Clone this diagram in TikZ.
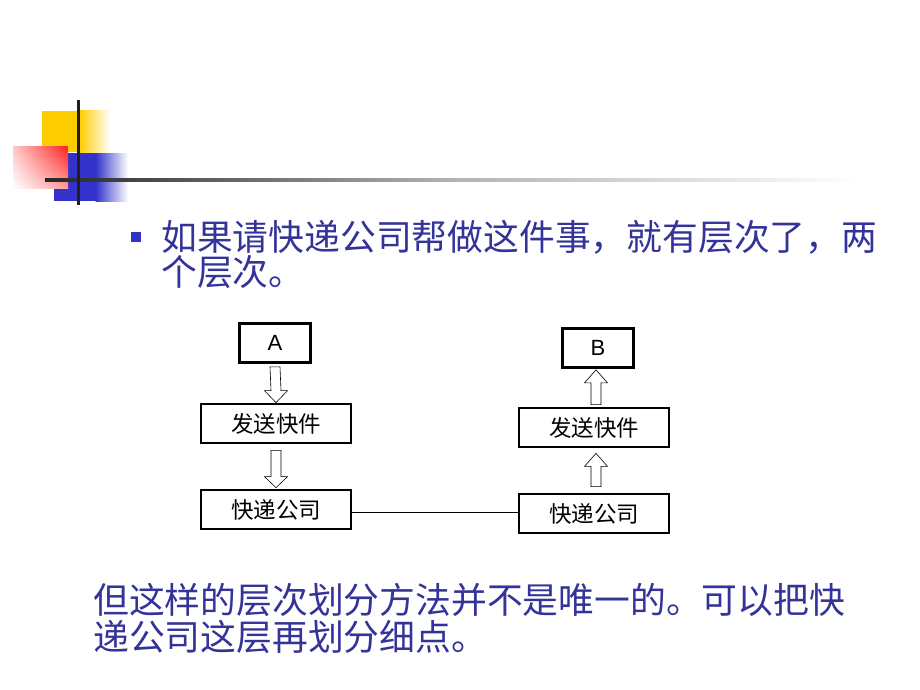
\documentclass[tikz,border=0pt]{standalone}
\usepackage{fontspec}
\newfontfamily\cjk{Noto Sans CJK SC}
\newfontfamily\arialf{Liberation Sans}
\usetikzlibrary{calc,shadings}
\definecolor{txtblue}{HTML}{333399}
\definecolor{bulletblue}{HTML}{3333CC}
\definecolor{logoyellow}{HTML}{FFCC00}
\definecolor{logoblue}{HTML}{3333CC}
\definecolor{logored}{HTML}{FF2020}
\tikzset{
  box/.style={draw=black, line width=2.7pt, minimum width=150pt, minimum height=39pt, inner sep=0pt, font=\cjk\fontsize{22.5}{22.5}\selectfont},
  smallbox/.style={box, minimum width=71pt, font=\arialf\fontsize{22}{22}\selectfont},
  hollow/.style={draw=black, line width=0.6pt, fill=white},
  bigtext/.style={text=txtblue, font=\cjk\fontsize{35.8}{35.8}\selectfont, inner sep=0pt, anchor=west},
  link/.style={draw=black, line width=0.8pt}
}
% hollow block arrow from #1 (tail point) to #2 (tip point), vertical
\newcommand{\hollowarrow}[3]{% #1 tail, #2 tip, #3 head length signed (+ down, - up)
  \draw[hollow] ($#1+(-5,0)$) -- ($#1+(5,0)$) -- ($#2+(5,-#3)$) -- ($#2+(11.5,-#3)$) -- #2 -- ($#2+(-11.5,-#3)$) -- ($#2+(-5,-#3)$) -- cycle;
}
\begin{document}
\begin{tikzpicture}[x=1pt,y=-1pt]
\useasboundingbox[fill=white] (0,0) rectangle (920,690);
% logo
\fill[logoyellow] (42,111) rectangle (80,152);
\shade[left color=logoyellow, right color=white] (79.5,111) rectangle (110,152);
\fill[logoblue] (54,153) rectangle (96,201);
\shade[left color=logoblue, right color=white] (95.5,153) rectangle (128,201);
\shade[upper right=logored, upper left=logored!25, lower right=logored!45, lower left=white] (13,146) rectangle (68,188);
\shade[left color=black!85, right color=white, middle color=black!30] (45,178.5) rectangle (860,181.5);
\fill[black!88] (76.5,100) rectangle (79.5,205);
% bullet text
\fill[bulletblue] (131,232) rectangle (141,241.5);
\node[bigtext] (t1) at (161,237) {如果请快递公司帮做这件事，就有层次了，两};
\node[bigtext] (t2) at (161,272) {个层次。};
\node[bigtext] (t3) at (93,600) {但这样的层次划分方法并不是唯一的。可以把快};
\node[bigtext] (t4) at (93,637) {递公司这层再划分细点。};
% diagram
\node[smallbox] (A) at (275,343) {A};
\node[smallbox] (B) at (598,348) {B};
\node[box] (lf) at (276,423.5) {发送快件};
\node[box] (rf) at (594,427.5) {发送快件};
\node[box] (lk) at (276,509.5) {快递公司};
\node[box] (rk) at (594,513.5) {快递公司};
\draw[link] ($(lk.east)+(0,2.5)$) -- ($(rk.west)+(0,-1.5)$);
% hollow arrows
\hollowarrow{($(A.south)+(0,3)$)}{($(lf.north)+(0,0)$)}{12}
\hollowarrow{($(lf.south)+(0,6)$)}{($(lk.north)+(0,-1)$)}{11}
\hollowarrow{($(rf.north)+(2,-2)$)}{($(B.south)+(-2,1)$)}{-13}
\hollowarrow{($(rk.north)+(2,-6)$)}{($(rf.south)+(2,5)$)}{-13}
\end{tikzpicture}
\end{document}
